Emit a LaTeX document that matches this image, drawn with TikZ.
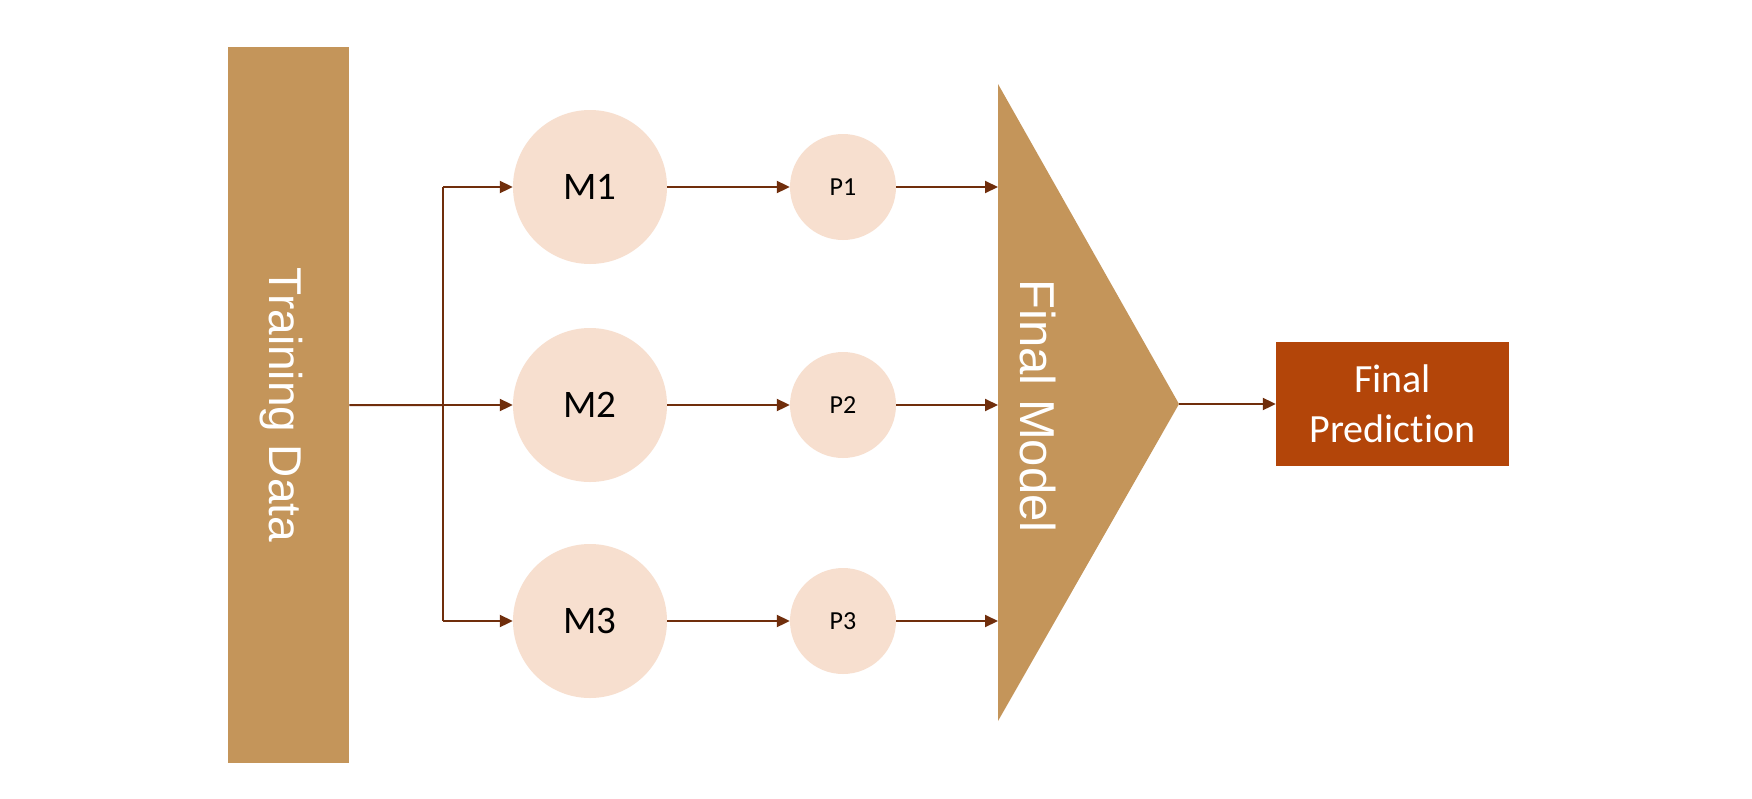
\documentclass[tikz,border=0pt]{standalone}
\usepackage{fontspec}
\setmainfont{Carlito}[Ligatures=NoCommon]
\newfontfamily\arialf{Liberation Sans}
\usetikzlibrary{arrows.meta}
\definecolor{tan}{RGB}{196,149,90}
\definecolor{peach}{RGB}{247,223,207}
\definecolor{rust}{RGB}{179,69,9}
\definecolor{arr}{RGB}{112,46,12}
\begin{document}
\begin{tikzpicture}[x=1pt,y=-1pt,
  conn/.style={draw=arr,line width=2pt},
  arrowc/.style={conn,-{Triangle[length=13pt,width=12pt]}},
  mcirc/.style={circle,fill=peach,minimum size=154pt,inner sep=0pt,font=\fontsize{39}{47}\selectfont},
  pcirc/.style={circle,fill=peach,minimum size=106pt,inner sep=0pt,font=\fontsize{26}{31}\selectfont},
  vtext/.style={text=white,rotate=-90,font=\arialf\fontsize{46}{55}\selectfont,inner sep=0pt}]
\useasboundingbox (0,0) rectangle (1752,798);
\fill[white] (0,0) rectangle (1752,798);
% training data
\node[fill=tan,minimum width=121pt,minimum height=716pt,inner sep=0pt,anchor=north west] (td) at (228,47) {};
\node[vtext] (tdt) at (281,405) {Training Data};
% models
\node[mcirc] (m1) at (590,187) {M1};
\node[mcirc] (m2) at (590,405) {M2};
\node[mcirc] (m3) at (590,621) {M3};
\node[pcirc] (p1) at (843,187) {P1};
\node[pcirc] (p2) at (843,405) {P2};
\node[pcirc] (p3) at (843,621) {P3};
% final model triangle
\coordinate (ft) at (998,84);
\coordinate (fb) at (998,721);
\coordinate (fx) at (1179,404);
\fill[tan] (ft) -- (fx) -- (fb) -- cycle;
\node[vtext,font=\arialf\fontsize{49}{58}\selectfont] (fmt) at (1038,406) {Final Model};
% final prediction
\node[fill=rust,minimum width=233pt,minimum height=124pt,inner sep=0pt,text=white,align=center,
  font=\fontsize{40}{50}\selectfont] (fp) at (1392.5,404) {Final\\Prediction};
% connectors
\coordinate (br) at (443,405);
\draw[conn] (td.east) -- (br);
\draw[arrowc] (br) -- (m2.west);
\draw[conn] (br) -- (443,187) coordinate (brt);
\draw[conn] (br) -- (443,621) coordinate (brb);
\draw[arrowc] (brt) -- (m1.west);
\draw[arrowc] (brb) -- (m3.west);
\draw[arrowc] (m1.east) -- (p1.west);
\draw[arrowc] (m2.east) -- (p2.west);
\draw[arrowc] (m3.east) -- (p3.west);
\draw[arrowc] (p1.east) -- (ft |- p1);
\draw[arrowc] (p2.east) -- (ft |- p2);
\draw[arrowc] (p3.east) -- (ft |- p3);
\draw[arrowc] (fx) -- (fp.west);
\end{tikzpicture}
\end{document}
